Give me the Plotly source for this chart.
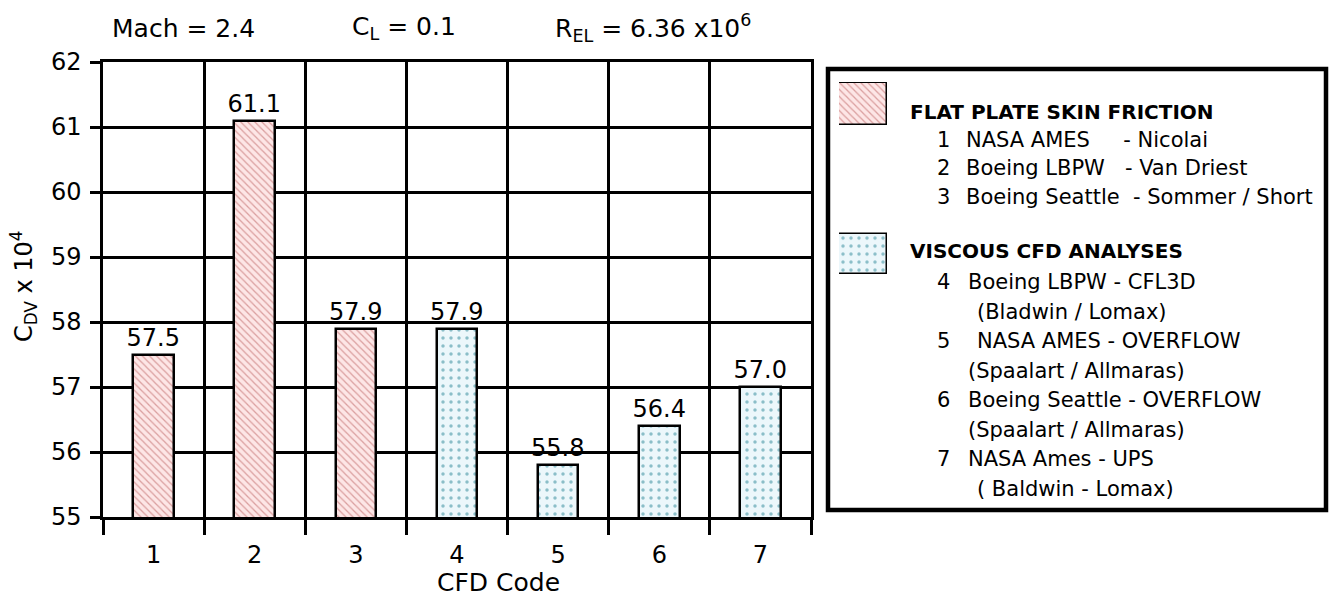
import plotly.graph_objects as go

# ---------------- data ----------------
flat_codes = [1, 2, 3]
flat_values = [57.5, 61.1, 57.9]
visc_codes = [4, 5, 6, 7]
visc_values = [57.9, 55.8, 56.4, 57.0]
x_ticks = [1, 2, 3, 4, 5, 6, 7]
x_tick_labels = ["1", "2", "3", "4", "5", "6", "7"]
y_ticks = [55, 56, 57, 58, 59, 60, 61, 62]

flat_title = "FLAT PLATE SKIN FRICTION"
flat_items = [("1", "NASA AMES     - Nicolai"),
              ("2", "Boeing LBPW   - Van Driest"),
              ("3", "Boeing Seattle  - Sommer / Short")]
visc_title = "VISCOUS CFD ANALYSES"
visc_items = [("4", "Boeing LBPW - CFL3D", 0),
              ("", "(Bladwin / Lomax)", 1),
              ("5", "NASA AMES - OVERFLOW", 1),
              ("", "(Spaalart / Allmaras)", 0),
              ("6", "Boeing Seattle - OVERFLOW", 0),
              ("", "(Spaalart / Allmaras)", 0),
              ("7", "NASA Ames - UPS", 0),
              ("", "( Baldwin - Lomax)", 1)]

# ---------------- geometry ----------------
FW, FH = 1336, 597
ML, MR, MT, MB = 103, 9, 62, 80
PW = FW - ML - MR
PH = FH - MT - MB
FONT = "DejaVu Sans"


def px(x):
    return (x - ML) / PW


def py(y):
    return (FH - MB - y) / PH


FLAT_BG, FLAT_FG = "#fde6e6", "#b85858"
VISC_BG, VISC_FG = "#ecf7fb", "#2a8595"
FLAT_PAT = dict(shape="\\", fgcolor=FLAT_FG, bgcolor=FLAT_BG, size=5, solidity=0.25)
VISC_PAT = dict(shape=".", fgcolor=VISC_FG, bgcolor=VISC_BG, size=8, solidity=0.15)

fig = go.Figure()

fig.add_trace(go.Bar(
    x=flat_codes, y=flat_values, width=0.4,
    marker=dict(color=FLAT_BG, line=dict(color="black", width=2.5), pattern=FLAT_PAT),
    texttemplate="%{y:.1f}", textposition="outside", constraintext="none",
    textfont=dict(size=24, color="black", family=FONT),
    cliponaxis=False, showlegend=False, hoverinfo="x+y"))

fig.add_trace(go.Bar(
    x=visc_codes, y=visc_values, width=0.4,
    marker=dict(color=VISC_BG, line=dict(color="black", width=2.5), pattern=VISC_PAT),
    texttemplate="%{y:.1f}", textposition="outside", constraintext="none",
    textfont=dict(size=24, color="black", family=FONT),
    cliponaxis=False, showlegend=False, hoverinfo="x+y"))

# legend swatches (own small axes)
fig.add_trace(go.Bar(
    x=[1], y=[1], base=0, orientation="h", width=0.28,
    xaxis="x2", yaxis="y2",
    marker=dict(color=FLAT_BG, line=dict(color="black", width=1.5), pattern=FLAT_PAT),
    showlegend=False, hoverinfo="skip"))
fig.add_trace(go.Bar(
    x=[1], y=[0], base=0, orientation="h", width=0.27,
    xaxis="x2", yaxis="y2",
    marker=dict(color=VISC_BG, line=dict(color="black", width=1.5), pattern=VISC_PAT),
    showlegend=False, hoverinfo="skip"))

# swatch axis mapping: value 1 -> y=104.5px, value 0 -> y=254px
u = 254 - 104.5
sw_top = 104.5 - 0.15 * u
sw_bot = 254 + 0.15 * u

fig.update_layout(
    width=FW, height=FH,
    margin=dict(l=ML, r=MR, t=MT, b=MB),
    paper_bgcolor="white", plot_bgcolor="white",
    font=dict(family=FONT, size=24, color="black"),
    bargap=0,
    xaxis=dict(
        domain=[0, px(811)], range=[0.5, 7.5],
        tickmode="array", tickvals=x_ticks, ticktext=x_tick_labels,
        ticks="outside", ticklen=14, tickcolor="rgba(0,0,0,0)",
        showgrid=False, zeroline=False,
        showline=True, linecolor="black", linewidth=2.5, mirror=True,
        tickfont=dict(size=24, family=FONT),
        minor=dict(tickmode="array", tickvals=[0.5 + i for i in range(8)],
                   ticks="outside", ticklen=15, tickwidth=2.5, tickcolor="black",
                   showgrid=True, gridcolor="black", gridwidth=2.5),
    ),
    yaxis=dict(
        range=[55, 62], tickmode="array", tickvals=y_ticks,
        ticks="outside", ticklen=10, tickwidth=2.5, tickcolor="black",
        showgrid=True, gridcolor="black", gridwidth=2.5, zeroline=False,
        showline=True, linecolor="black", linewidth=2.5, mirror=True,
        tickfont=dict(size=24, family=FONT), ticklabelstandoff=4,
    ),
    xaxis2=dict(domain=[px(839), px(887)], range=[0, 1], anchor="y2",
                visible=False, fixedrange=True),
    yaxis2=dict(domain=[py(sw_bot), py(sw_top)], range=[-0.15, 1.15],
                anchor="x2", visible=False, fixedrange=True),
)

ann = []


def add_text(text, x, y, size=24, xanchor="left", bold=False, angle=0):
    ann.append(dict(text=("<b>%s</b>" % text) if bold else text,
                    x=px(x), y=py(y), xref="paper", yref="paper",
                    xanchor=xanchor, yanchor="middle", showarrow=False,
                    textangle=angle,
                    font=dict(size=size, family=FONT, color="black")))


# header texts
add_text("Mach = 2.4", 110, 28, size=25)
add_text("C<sub>L</sub> = 0.1", 350, 28, size=25)
add_text("R<sub>EL</sub> = 6.36 x10<sup>6</sup>", 553, 28, size=25)

# axis titles
add_text("C<sub>DV</sub> x 10<sup>4</sup>", 23, 286, size=24, xanchor="center", angle=-90)
add_text("CFD Code", 498, 582, size=25, xanchor="center")

# legend text
add_text(flat_title, 908, 112, size=20, bold=True)
for i, (num, txt) in enumerate(flat_items):
    yy = 140 + i * 28.5
    add_text(num, 935, yy, size=21)
    add_text(txt, 964, yy, size=21)

add_text(visc_title, 908, 251, size=20, bold=True)
for i, (num, txt, ind) in enumerate(visc_items):
    yy = 282 + i * 29.5
    if num:
        add_text(num, 935, yy, size=21)
    add_text(txt, 966 + 9 * ind, yy, size=21)

fig.update_layout(annotations=ann)

# legend box
fig.add_shape(type="rect", xref="paper", yref="paper",
              x0=px(828), x1=px(1326), y0=py(510), y1=py(69),
              line=dict(color="black", width=4.5), fillcolor="rgba(0,0,0,0)",
              layer="below")

fig.write_html(
    "out.html",
    config={"displayModeBar": False},
    post_script="document.body.style.margin='0';document.body.style.overflow='hidden';",
)
